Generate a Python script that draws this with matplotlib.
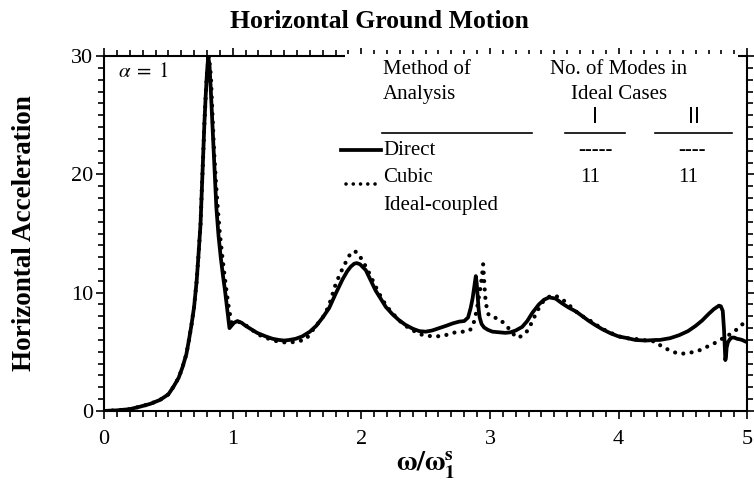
import matplotlib
matplotlib.use("Agg")
import matplotlib.pyplot as plt
from matplotlib.patches import Rectangle
from matplotlib.ticker import MultipleLocator

plt.rcParams['font.family'] = ['Liberation Serif', 'DejaVu Serif']
plt.rcParams['mathtext.fontset'] = 'stix'

# Direct method (solid line)
x_direct = [0.0, 0.1, 0.2, 0.28, 0.36, 0.435, 0.5, 0.54, 0.58, 0.61, 0.64, 0.66, 0.68, 0.70,
            0.72, 0.733, 0.75, 0.76, 0.77, 0.78, 0.79, 0.80, 0.81, 0.82, 0.83, 0.848, 0.86,
            0.873, 0.89, 0.907, 0.925, 0.94, 0.955, 0.967, 0.975, 0.99, 1.01, 1.037, 1.07,
            1.10, 1.153, 1.19, 1.257, 1.31, 1.36, 1.40, 1.44, 1.49, 1.54, 1.60, 1.65, 1.70,
            1.75, 1.80, 1.853, 1.89, 1.918, 1.945, 1.965, 1.99, 2.035, 2.07, 2.11, 2.15,
            2.19, 2.24, 2.29, 2.34, 2.40, 2.45, 2.50, 2.55, 2.605, 2.66, 2.71, 2.76, 2.80,
            2.83, 2.85, 2.865, 2.877, 2.885, 2.89, 2.897, 2.905, 2.912, 2.92, 2.935, 2.955,
            2.985, 3.02, 3.07, 3.12, 3.16, 3.20, 3.25, 3.29, 3.33, 3.38, 3.42, 3.46, 3.51,
            3.56, 3.61, 3.67, 3.72, 3.77, 3.82, 3.875, 3.94, 4.0, 4.07, 4.13, 4.21, 4.29,
            4.32, 4.40, 4.47, 4.54, 4.60, 4.65, 4.70, 4.74, 4.78, 4.795, 4.81, 4.815, 4.82,
            4.825, 4.83, 4.835, 4.84, 4.85, 4.865, 4.88, 4.90, 4.92, 4.94, 4.96, 4.98, 5.0]
y_direct = [0.0, 0.05, 0.15, 0.36, 0.6, 0.93, 1.4, 2.05, 2.8, 3.7, 4.8, 6.0, 7.3, 8.8,
            11.0, 13.0, 15.8, 18.7, 21.4, 24.3, 26.6, 28.6, 30.0, 29.2, 27.1, 22.9, 20.0,
            17.2, 14.8, 13.0, 11.4, 10.2, 8.8, 7.6, 7.0, 7.2, 7.45, 7.6, 7.45, 7.2, 6.85,
            6.6, 6.3, 6.1, 6.0, 5.95, 6.0, 6.1, 6.3, 6.7, 7.2, 7.9, 8.7, 9.9, 11.1, 11.8,
            12.2, 12.45, 12.5, 12.4, 11.9, 11.1, 10.2, 9.5, 8.8, 8.2, 7.7, 7.3, 6.95, 6.75,
            6.7, 6.8, 7.0, 7.2, 7.4, 7.55, 7.6, 7.9, 8.7, 9.5, 10.4, 11.0, 11.4, 10.8, 9.6,
            8.6, 7.9, 7.35, 7.05, 6.85, 6.7, 6.65, 6.6, 6.65, 6.8, 7.1, 7.6, 8.3, 9.0, 9.4,
            9.6, 9.5, 9.1, 8.75, 8.4, 8.0, 7.6, 7.25, 6.9, 6.55, 6.3, 6.15, 6.0, 5.95, 6.0,
            6.0, 6.15, 6.4, 6.75, 7.2, 7.65, 8.2, 8.6, 8.9, 8.85, 8.45, 7.6, 6.8, 5.6, 4.3,
            4.6, 5.35, 5.8, 6.06, 6.2, 6.2, 6.1, 6.06, 6.0, 5.9, 5.8]

# Cubic ideal-coupled method (dotted line)
x_cubic = [0.0, 0.1, 0.2, 0.28, 0.36, 0.435, 0.5, 0.54, 0.58, 0.61, 0.64, 0.66, 0.68, 0.70,
           0.72, 0.733, 0.75, 0.76, 0.77, 0.78, 0.79, 0.80, 0.815, 0.83, 0.843, 0.855, 0.87,
           0.885, 0.90, 0.92, 0.935, 0.95, 0.97, 0.99, 1.01, 1.04, 1.08, 1.12, 1.17, 1.22,
           1.28, 1.34, 1.40, 1.45, 1.50, 1.57, 1.62, 1.67, 1.72, 1.76, 1.80, 1.835, 1.866,
           1.895, 1.92, 1.945, 1.97, 2.01, 2.05, 2.09, 2.13, 2.165, 2.20, 2.24, 2.28, 2.32,
           2.37, 2.42, 2.45, 2.51, 2.58, 2.64, 2.71, 2.77, 2.825, 2.85, 2.87, 2.885, 2.90,
           2.915, 2.93, 2.94, 2.947, 2.955, 2.962, 2.97, 2.99, 3.03, 3.07, 3.12, 3.16, 3.205,
           3.24, 3.27, 3.30, 3.33, 3.37, 3.41, 3.45, 3.49, 3.54, 3.59, 3.64, 3.69, 3.75,
           3.80, 3.85, 3.90, 3.96, 4.03, 4.10, 4.16, 4.22, 4.29, 4.34, 4.41, 4.46, 4.52,
           4.59, 4.65, 4.70, 4.76, 4.82, 4.87, 4.92, 4.97, 5.0]
y_cubic = [0.0, 0.05, 0.15, 0.36, 0.6, 0.93, 1.4, 2.05, 2.8, 3.7, 4.8, 6.0, 7.3, 8.8,
           11.0, 13.0, 15.8, 18.7, 21.4, 24.3, 26.6, 28.6, 30.0, 28.4, 25.0, 22.0, 19.3,
           17.0, 15.0, 13.0, 11.6, 10.3, 8.7, 7.5, 7.4, 7.55, 7.4, 7.1, 6.7, 6.35, 6.1,
           5.9, 5.8, 5.8, 5.85, 6.06, 6.8, 7.5, 8.2, 9.3, 10.7, 11.6, 12.3, 12.9, 13.4,
           13.5, 13.4, 12.7, 11.9, 11.0, 10.1, 9.4, 8.8, 8.3, 7.8, 7.4, 7.0, 6.7, 6.5,
           6.35, 6.3, 6.35, 6.6, 6.7, 6.7, 6.9, 7.3, 7.9, 8.7, 9.7, 10.7, 11.6, 12.4, 11.0,
           9.8, 9.0, 8.1, 7.9, 7.8, 7.3, 6.8, 6.2, 6.3, 6.5, 6.9, 7.6, 8.5, 9.2, 9.6, 9.8,
           9.6, 9.2, 8.7, 8.2, 7.8, 7.5, 7.1, 6.8, 6.5, 6.2, 6.1, 6.06, 5.95, 5.86, 5.4,
           5.07, 4.85, 4.85, 5.0, 5.2, 5.5, 5.8, 6.2, 6.5, 6.9, 7.4, 7.6]

fig = plt.figure(figsize=(7.54, 4.84), dpi=100)
ax = fig.add_axes([0.138, 0.151, 0.853, 0.733])

dots = (0, (0.01, 2.0))
ax.plot(x_direct, y_direct, color='black', lw=2.7, solid_joinstyle='round', zorder=4)
ax.plot(x_cubic, y_cubic, color='black', lw=3.0, linestyle=dots,
        dash_capstyle='round', zorder=4)

ax.set_xlim(0, 5)
ax.set_ylim(0, 30)
ax.xaxis.set_major_locator(MultipleLocator(1))
ax.xaxis.set_minor_locator(MultipleLocator(0.1))
ax.yaxis.set_major_locator(MultipleLocator(10))
ax.yaxis.set_minor_locator(MultipleLocator(1))
ax.tick_params(which='both', direction='out', top=True, right=True, width=1.2,
               labelsize=16)
ax.tick_params(axis='y', pad=2)
ax.tick_params(axis='x', pad=8)
ax.tick_params(which='major', length=6)
ax.tick_params(which='minor', length=4)
for s in ax.spines.values():
    s.set_linewidth(1.5)

fig.text(0.503, 0.955, 'Horizontal Ground Motion', fontsize=18.5, fontweight='bold',
         ha='center', va='center')
ax.set_ylabel('Horizontal Acceleration', fontsize=19.5, fontweight='bold')
ax.yaxis.set_label_coords(-0.105, 0.5)
ax.set_xlabel(r'$\mathbf{\omega/\omega_1^s}$', fontsize=20, labelpad=0)

ax.text(0.11, 28.6, r'$\alpha\;=\;1$', fontsize=15, va='center')

# table-like legend, white block hides the top spine behind it
ax.add_patch(Rectangle((1.87, 26.5), 3.06, 3.7, facecolor='white', edgecolor='none',
                       clip_on=False, zorder=3))
fs = 15
ax.text(2.17, 28.9, 'Method of', fontsize=fs, va='center', zorder=5)
ax.text(2.17, 26.75, 'Analysis', fontsize=fs, va='center', zorder=5)
ax.text(4.0, 28.9, 'No. of Modes in', fontsize=fs, va='center', ha='center', zorder=5)
ax.text(4.0, 26.75, 'Ideal Cases', fontsize=fs, va='center', ha='center', zorder=5)
ax.text(3.82, 24.85, 'I', fontsize=fs, va='center', ha='center', family='DejaVu Sans')
ax.text(4.585, 24.85, 'II', fontsize=fs, va='center', ha='center', family='DejaVu Sans')
for x0, x1 in [(2.16, 3.33), (3.585, 4.05), (4.285, 4.88)]:
    ax.plot([x0, x1], [23.5, 23.5], color='black', lw=1.2)
ax.plot([1.84, 2.15], [22.05, 22.05], color='black', lw=2.7)
ax.text(2.17, 22.05, 'Direct', fontsize=fs, va='center')
ax.text(3.82, 22.05, '-----', fontsize=fs, va='center', ha='center')
ax.text(4.57, 22.05, '----', fontsize=fs, va='center', ha='center')
ax.plot([1.88, 2.15], [19.2, 19.2], color='black', lw=2.6, linestyle=dots,
        dash_capstyle='round')
ax.text(2.17, 19.75, 'Cubic', fontsize=fs, va='center')
ax.text(3.78, 19.75, '11', fontsize=fs, va='center', ha='center')
ax.text(4.54, 19.75, '11', fontsize=fs, va='center', ha='center')
ax.text(2.17, 17.4, 'Ideal-coupled', fontsize=fs, va='center')

fig.savefig('out.png', dpi=100)
